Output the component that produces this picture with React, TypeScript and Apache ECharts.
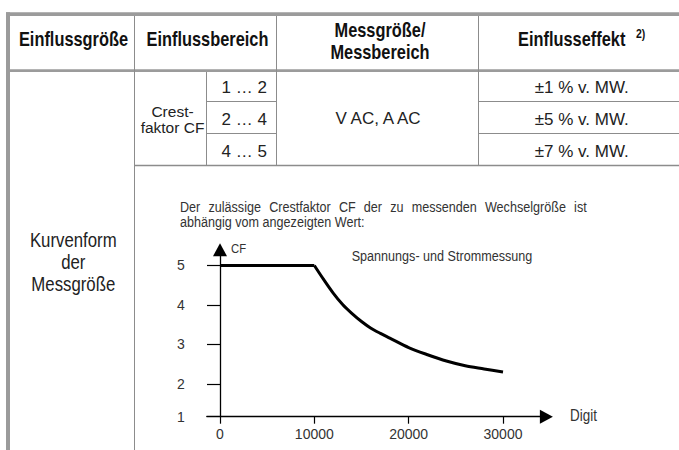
import React, { useEffect, useRef } from "react";
import * as echarts from "echarts";

// ---------- data ----------
const headers = ["Einflussgröße", "Einflussbereich", "Messgröße/\nMessbereich", "Einflusseffekt"];
const footnoteMark = "2)";
const parameterName = "Kurvenform\nder\nMessgröße";
const crestLabel = "Crest-\nfaktor CF";
const crestRanges = ["1 … 2", "2 … 4", "4 … 5"];
const measurand = "V AC, A AC";
const effects = ["±1 % v. MW.", "±5 % v. MW.", "±7 % v. MW."];
const noteLine1Words = ["Der", "zulässige", "Crestfaktor", "CF", "der", "zu", "messenden", "Wechselgröße", "ist"];
const noteLine2 = "abhängig vom angezeigten Wert:";
const curveLabel = "Spannungs- und Strommessung";
const xAxisName = "Digit";
const yAxisName = "CF";

// curve: permitted crest factor vs. displayed value
const digitValues = [0, 10000, 11000, 12000, 13000, 14000, 15000, 16000, 17000, 18000, 20000, 22000, 24000, 26000, 28000, 30000];
const crestFactor = [5, 5, 4.64, 4.3, 4.01, 3.78, 3.58, 3.41, 3.28, 3.16, 2.92, 2.74, 2.58, 2.46, 2.38, 2.3];
const cornerIndex = 1; // flat part ends here

const xTicks = [0, 10000, 20000, 30000];
const yTicks = [1, 2, 3, 4, 5];
// the x-axis is drawn at the "1" level, which sits closer to 2 than even spacing would put it
const yAxisFloor = 1.17;

// ---------- styles ----------
const FONT = '"Liberation Sans", Arial, sans-serif';
const CONDENSE = 0.84;
const THICK = "#9b9b9b";
const THIN = "#8c8c8c";

function txt(text: string, x: number, y: number, opts: any = {}) {
  return {
    type: "text",
    x,
    y,
    scaleX: opts.scaleX || 1,
    silent: true,
    style: {
      text,
      fill: opts.fill || "#222",
      fontFamily: FONT,
      fontSize: opts.size || 17,
      fontWeight: opts.weight || "normal",
      lineHeight: opts.lineHeight,
      align: opts.align || "center",
      textAlign: opts.align || "center",
      verticalAlign: "middle",
      textVerticalAlign: "middle",
    },
  };
}
function hline(x1: number, x2: number, y: number, w = 1, c = THIN) {
  return { type: "line", silent: true, shape: { x1, y1: y, x2, y2: y }, style: { stroke: c, lineWidth: w } };
}
function vline(x: number, y1: number, y2: number, w = 1, c = THIN) {
  return { type: "line", silent: true, shape: { x1: x, y1, x2: x, y2 }, style: { stroke: c, lineWidth: w } };
}

export default function App() {
  const ref = useRef<HTMLDivElement>(null);
  useEffect(() => {
    if (!ref.current) return;
    const chart = echarts.init(ref.current, null, { renderer: "svg" });

    // justified first note line
    const noteSize = 15;
    const ctx = document.createElement("canvas").getContext("2d")!;
    ctx.font = `${noteSize}px "Liberation Sans"`;
    const widths = noteLine1Words.map((w) => ctx.measureText(w).width * CONDENSE);
    const left = 180, right = 586.7;
    const gap = (right - left - widths.reduce((a, b) => a + b, 0)) / (noteLine1Words.length - 1);
    let cx = left;
    const noteStyle = { size: noteSize, align: "left", fill: "#333", scaleX: CONDENSE };
    const noteWords = noteLine1Words.map((w, i) => {
      const el = txt(w, cx, 206.7, noteStyle);
      cx += widths[i] + gap;
      return el;
    });

    const headerFont = { size: 19.5, weight: "bold", fill: "#111", scaleX: CONDENSE };
    const rowY = [87.2, 119.3, 151.2];

    const graphics: any[] = [
      // borders
      { type: "rect", silent: true, shape: { x: 6, y: 12.3, width: 673, height: 3.7 }, style: { fill: THICK } },
      { type: "rect", silent: true, shape: { x: 6, y: 12.3, width: 4, height: 437.7 }, style: { fill: THICK } },
      { type: "rect", silent: true, shape: { x: 10, y: 69.3, width: 669, height: 2.7 }, style: { fill: THICK } },
      vline(134.5, 16, 450),
      vline(276.5, 16, 165),
      vline(478.5, 16, 165),
      vline(206.5, 72, 165),
      hline(206, 277, 101.5),
      hline(478, 679, 101.5),
      hline(206, 277, 133.5),
      hline(478, 679, 133.5),
      hline(135, 679, 165.5, 1.6),
      // header
      txt(headers[0], 73.5, 40, headerFont),
      txt(headers[1], 207.5, 40, headerFont),
      txt(headers[2], 380, 41.2, { ...headerFont, lineHeight: 21.7 }),
      txt(headers[3], 571.7, 40, headerFont),
      txt(footnoteMark, 636, 33.5, { size: 12.5, weight: "bold", fill: "#111", align: "left", scaleX: CONDENSE }),
      // rows
      txt(parameterName, 73.3, 261.8, { size: 20, lineHeight: 22.2, scaleX: CONDENSE }),
      txt(crestLabel, 172.5, 119.5, { size: 15.5, lineHeight: 16 }),
      ...crestRanges.map((r, i) => txt(r, 244.2, rowY[i], { size: 17 })),
      txt(measurand, 378, 118.8, { size: 17 }),
      ...effects.map((e, i) => txt(e, 581.7, rowY[i], { size: 17 })),
      // chart notes
      ...noteWords,
      txt(noteLine2, 180, 221.7, noteStyle),
      txt(curveLabel, 351.7, 255.5, { ...noteStyle, size: 15 }),
      txt(yAxisName, 231, 249, { size: 13.5, align: "left", fill: "#333", scaleX: CONDENSE }),
      txt(xAxisName, 570, 416, { size: 16, align: "left", fill: "#333", scaleX: CONDENSE }),
    ];

    const pts = digitValues.map((d, i) => [d, crestFactor[i]]);
    const axisLineStyle = { color: "#000", width: 1.3 };

    chart.setOption({
      animation: false,
      backgroundColor: "#fff",
      grid: { left: 206.8, right: 132.6, top: 249.7, bottom: 33.3, containLabel: false, outerBoundsMode: "none" },
      xAxis: {
        type: "value",
        min: -1400,
        max: 34600,
        splitLine: { show: false },
        axisLine: { onZero: false, lineStyle: axisLineStyle, symbol: ["none", "triangle"], symbolSize: [14, 13] },
        axisTick: { show: true, length: 7, customValues: xTicks, lineStyle: { color: "#000", width: 1.2 } },
        axisLabel: {
          customValues: xTicks,
          formatter: (v: number) => String(v),
          margin: 10,
          color: "#333",
          fontFamily: FONT,
          fontSize: 14,
        },
      },
      yAxis: {
        type: "value",
        min: yAxisFloor,
        max: 5.4,
        splitLine: { show: false },
        axisLine: { onZero: true, lineStyle: axisLineStyle, symbol: ["none", "triangle"], symbolSize: [14, 13] },
        axisTick: { show: true, length: 13, customValues: yTicks.filter((v) => v > 1), lineStyle: { color: "#000", width: 1.2 } },
        axisLabel: {
          customValues: yTicks.map((v) => (v === 1 ? yAxisFloor : v)),
          formatter: (v: number) => (v === yAxisFloor ? String(yTicks[0]) : String(v)),
          margin: 22,
          color: "#333",
          fontFamily: FONT,
          fontSize: 14,
        },
      },
      series: [
        {
          type: "line",
          data: pts.slice(0, cornerIndex + 1),
          symbol: "none",
          silent: true,
          lineStyle: { color: "#000", width: 3 },
        },
        {
          type: "line",
          data: pts.slice(cornerIndex),
          symbol: "none",
          smooth: 0.3,
          silent: true,
          lineStyle: { color: "#000", width: 3 },
        },
      ],
      graphic: graphics,
    });
    return () => chart.dispose();
  }, []);
  return <div ref={ref} style={{ position: "absolute", left: 0, top: 0, width: 679, height: 450 }} />;
}
